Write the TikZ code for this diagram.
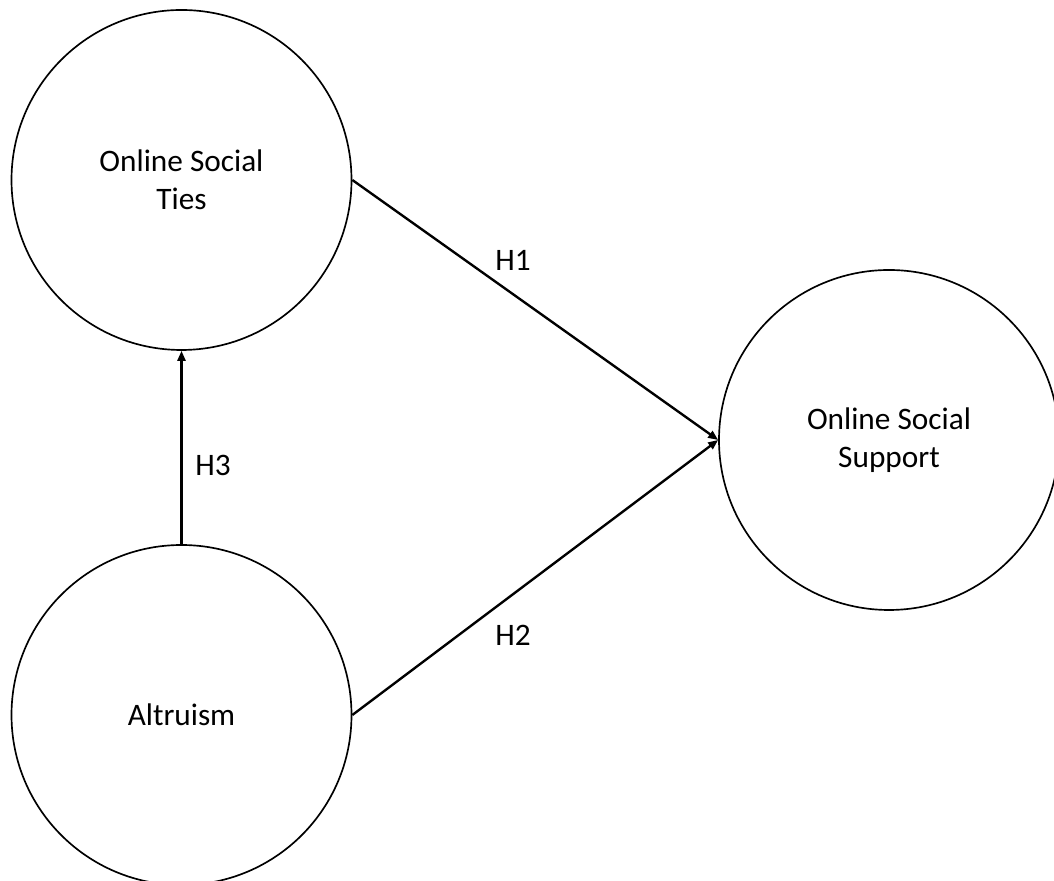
\documentclass[tikz,border=0pt]{standalone}
\usepackage{fontspec}
\setmainfont{Carlito}
\usetikzlibrary{arrows.meta, positioning}
\tikzset{
  construct/.style={circle, draw=black, line width=0.95pt, minimum size=6.8cm,
    inner sep=0pt, align=center, font=\fontsize{17.8}{21.6}\selectfont},
  arrow/.style={-{Triangle[length=2mm, width=1.6mm]}, line width=1.35pt, black},
  hyp/.style={font=\fontsize{17.8}{21.6}\selectfont},
}
\begin{document}
\begin{tikzpicture}
\useasboundingbox (0,0) rectangle (21.08,17.62);
\node[construct] (ties) at (3.63,14.02) {Online Social\\Ties};
\node[construct] (altruism) at (3.63,3.32) {Altruism};
\node[construct] (support) at (17.78,8.82) {Online Social\\Support};
\draw[arrow] (ties.east) -- (support.west);
\draw[arrow] (altruism.east) -- (support.west);
\draw[arrow] (altruism.north) -- (ties.south);
\node[hyp] (h1) at (10.26,12.42) {H1};
\node[hyp] (h2) at (10.26,4.92) {H2};
\node[hyp] (h3) at (4.26,8.32) {H3};
\end{tikzpicture}
\end{document}
